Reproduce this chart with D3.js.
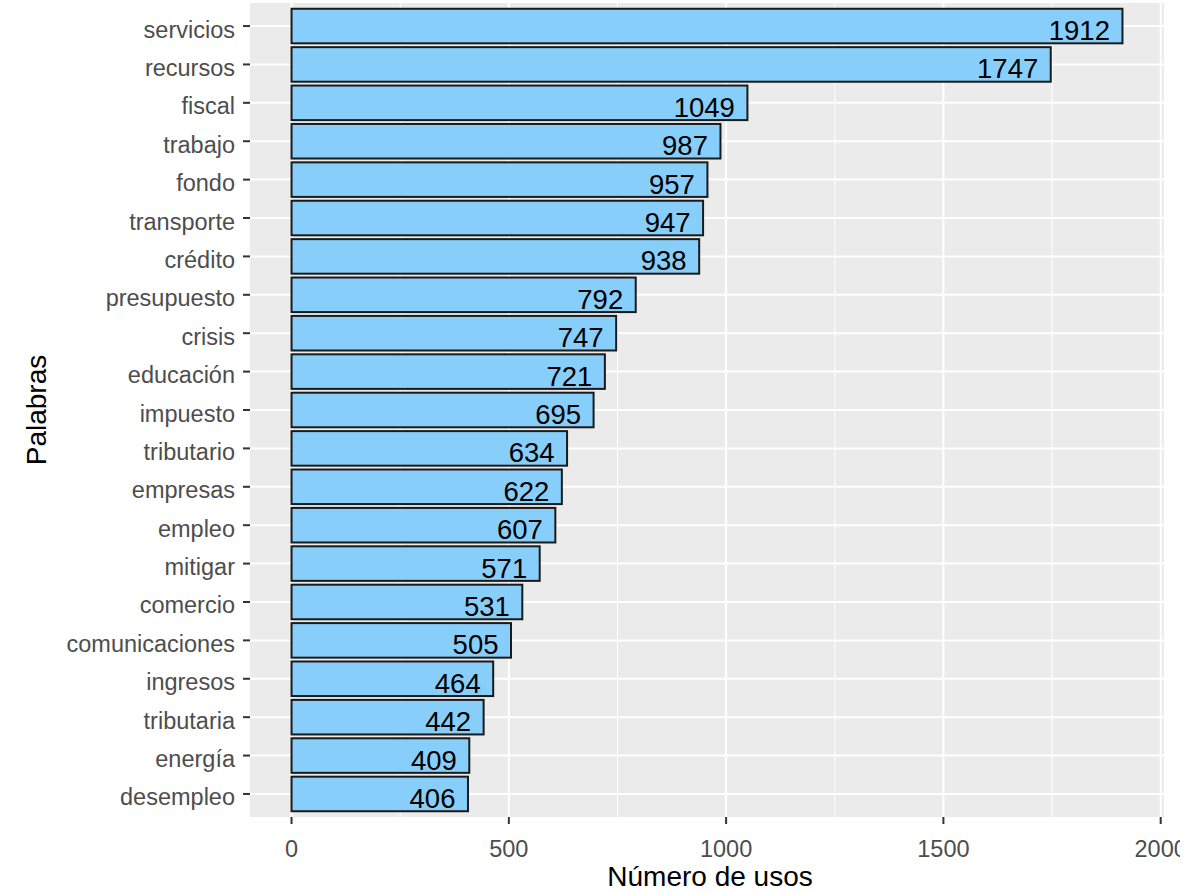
<!DOCTYPE html>
<html>
<head>
<meta charset="utf-8">
<style>
body { margin: 0; background: #fff; }
.panel-bg { fill: #ebebeb; }
.grid-major { stroke: #fff; stroke-width: 2px; }
.grid-minor { stroke: #fff; stroke-width: 1px; }
.bar { fill: #87cefa; stroke: #1a1a1a; stroke-width: 2px; }
.tick-line { stroke: #333; stroke-width: 2px; }
.tick-label { fill: #4d4d4d; font-family: "Liberation Sans", Arial, sans-serif; font-size: 23.5px; }
.bar-label { fill: #000; font-family: "Liberation Sans", Arial, sans-serif; font-size: 27.5px; }
.axis-title { fill: #000; font-family: "Liberation Sans", Arial, sans-serif; font-size: 28px; }
</style>
</head>
<body>
<script src="https://d3js.org/d3.v7.min.js"></script>
<script>

var palabras = ["servicios", "recursos", "fiscal", "trabajo", "fondo", "transporte", "crédito",
	"presupuesto", "crisis", "educación", "impuesto", "tributario", "empresas", "empleo",
	"mitigar", "comercio", "comunicaciones", "ingresos", "tributaria", "energía", "desempleo"]

var usos = [1912, 1747, 1049, 987, 957, 947, 938, 792, 747, 721, 695, 634, 622, 607,
	571, 531, 505, 464, 442, 409, 406]

var xTicks = [0, 500, 1000, 1500, 2000]
var xMinor = [250, 750, 1250, 1750]

// the reference picture ends at about x=1180, cutting the last tick label
var canvasWidth = 1180
var canvasHeight = 893

var panelLeft = 250
var panelRight = 1164
var panelTop = 3
var panelBottom = 817

var svg = d3.select("body").append("svg")
	.attr("width", canvasWidth)
	.attr("height", canvasHeight)

// ggplot style expansion: 5% of the data range on each side
var maxVal = d3.max(usos)
var pad = maxVal * 0.05
var x = d3.scaleLinear()
	.domain([-pad, maxVal + pad])
	.range([panelLeft, panelRight])

// discrete axis: 0.6 band expansion at both ends
var step = (panelBottom - panelTop) / (palabras.length - 1 + 1.2)
var y = function(i) { return panelTop + step * (0.6 + i) }
var barH = step * 0.9

svg.append("rect")
	.attr("class", "panel-bg")
	.attr("x", panelLeft)
	.attr("y", panelTop)
	.attr("width", panelRight - panelLeft)
	.attr("height", panelBottom - panelTop)

svg.selectAll(".grid-minor")
	.data(xMinor)
	.enter().append("line")
	.attr("class", "grid-minor")
	.attr("x1", function(d) { return x(d) })
	.attr("x2", function(d) { return x(d) })
	.attr("y1", panelTop)
	.attr("y2", panelBottom)

svg.selectAll(".grid-v")
	.data(xTicks)
	.enter().append("line")
	.attr("class", "grid-major grid-v")
	.attr("x1", function(d) { return x(d) })
	.attr("x2", function(d) { return x(d) })
	.attr("y1", panelTop)
	.attr("y2", panelBottom)

svg.selectAll(".grid-h")
	.data(palabras)
	.enter().append("line")
	.attr("class", "grid-major grid-h")
	.attr("x1", panelLeft)
	.attr("x2", panelRight)
	.attr("y1", function(d, i) { return y(i) })
	.attr("y2", function(d, i) { return y(i) })

svg.selectAll(".bar")
	.data(usos)
	.enter().append("rect")
	.attr("class", "bar")
	.attr("x", x(0))
	.attr("y", function(d, i) { return y(i) - barH / 2 })
	.attr("width", function(d) { return x(d) - x(0) })
	.attr("height", barH)

svg.selectAll(".bar-label")
	.data(usos)
	.enter().append("text")
	.attr("class", "bar-label")
	.attr("x", function(d) { return x(d) - 12.5 })
	.attr("y", function(d, i) { return y(i) + 14 })
	.attr("text-anchor", "end")
	.text(function(d) { return d })

// y axis ticks and labels
svg.selectAll(".ytick")
	.data(palabras)
	.enter().append("line")
	.attr("class", "tick-line ytick")
	.attr("x1", panelLeft - 7)
	.attr("x2", panelLeft)
	.attr("y1", function(d, i) { return y(i) })
	.attr("y2", function(d, i) { return y(i) })

svg.selectAll(".ylabel")
	.data(palabras)
	.enter().append("text")
	.attr("class", "tick-label ylabel")
	.attr("x", panelLeft - 15)
	.attr("y", function(d, i) { return y(i) + 11.5 })
	.attr("text-anchor", "end")
	.text(function(d) { return d })

// x axis ticks and labels
svg.selectAll(".xtick")
	.data(xTicks)
	.enter().append("line")
	.attr("class", "tick-line xtick")
	.attr("x1", function(d) { return x(d) })
	.attr("x2", function(d) { return x(d) })
	.attr("y1", panelBottom)
	.attr("y2", panelBottom + 7)

svg.selectAll(".xlabel")
	.data(xTicks)
	.enter().append("text")
	.attr("class", "tick-label xlabel")
	.attr("x", function(d) { return x(d) })
	.attr("y", 857)
	.attr("text-anchor", "middle")
	.text(function(d) { return d })

svg.append("text")
	.attr("class", "axis-title")
	.attr("x", (panelLeft + panelRight) / 2 + 3)
	.attr("y", 886)
	.attr("text-anchor", "middle")
	.text("Número de usos")

svg.append("text")
	.attr("class", "axis-title")
	.attr("transform", "translate(46," + (panelTop + panelBottom) / 2 + ") rotate(-90)")
	.attr("text-anchor", "middle")
	.text("Palabras")

</script>
</body>
</html>
